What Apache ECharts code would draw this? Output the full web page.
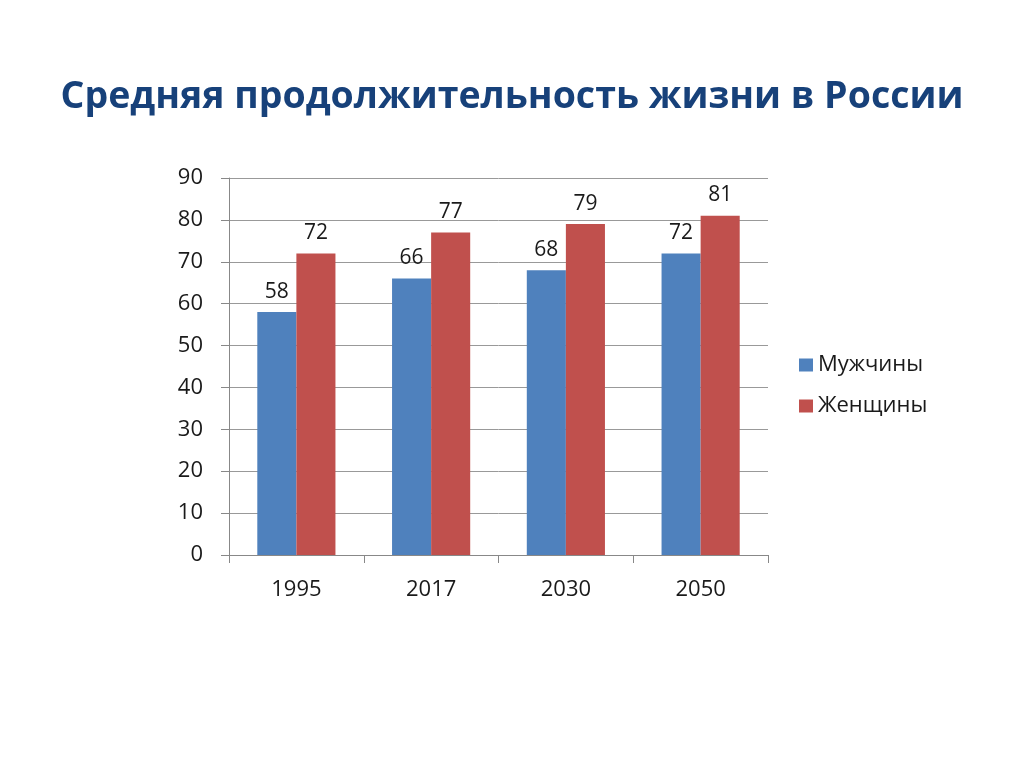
<!DOCTYPE html>
<html><head><meta charset="utf-8">
<script src="https://cdn.jsdelivr.net/npm/echarts@6/dist/echarts.min.js"></script>
<style>html,body{margin:0;padding:0;background:#fff}#c{width:1024px;height:767px}</style>
</head><body><div id="c"></div>
<script>
var titleText = 'Средняя продолжительность жизни в России';
var categories = ['1995', '2017', '2030', '2050'];
var menValues = [58, 66, 68, 72];
var womenValues = [72, 77, 79, 81];
var seriesNames = ['Мужчины', 'Женщины'];

var chart = echarts.init(document.getElementById('c'));
var font = '"Open Sans", "Noto Sans", sans-serif';
chart.setOption({
  animation: false,
  backgroundColor: '#fff',
  title: {
    text: titleText, left: 'center', top: 73,
    textStyle: {fontFamily: font, fontSize: 37.5, fontWeight: 'bold', color: '#17417A'}
  },
  legend: {
    orient: 'vertical', left: 794, top: 349, itemGap: 19,
    itemWidth: 14, itemHeight: 13, icon: 'rect',
    textStyle: {fontFamily: font, fontSize: 22, color: '#1a1a1a', padding: [0,0,0,0]},
    data: seriesNames
  },
  grid: {left: 229, top: 178, width: 539, height: 377, containLabel: false},
  xAxis: {
    type: 'category', data: categories,
    axisLine: {lineStyle: {color: '#888', width: 1}},
    axisTick: {show: true, length: 8, alignWithLabel: false, lineStyle: {color: '#888'}},
    axisLabel: {fontFamily: font, fontSize: 22, color: '#1a1a1a', margin: 24}
  },
  yAxis: {
    type: 'value', min: 0, max: 90, interval: 10,
    axisLine: {show: true, lineStyle: {color: '#888'}},
    axisTick: {show: true, length: 8, lineStyle: {color: '#888'}},
    splitLine: {lineStyle: {color: '#999'}},
    axisLabel: {fontFamily: font, fontSize: 22, color: '#1a1a1a', margin: 26}
  },
  series: [
    {name: seriesNames[0], type: 'bar', data: menValues, itemStyle: {color: '#4F81BD'},
     barGap: '0%', barCategoryGap: '42%',
     label: {show: true, position: 'top', distance: 10, fontFamily: font, fontSize: 21, color: '#1a1a1a'}},
    {name: seriesNames[1], type: 'bar', data: womenValues, itemStyle: {color: '#C0504D'},
     label: {show: true, position: 'top', distance: 10, fontFamily: font, fontSize: 21, color: '#1a1a1a'}}
  ]
});
</script></body></html>
